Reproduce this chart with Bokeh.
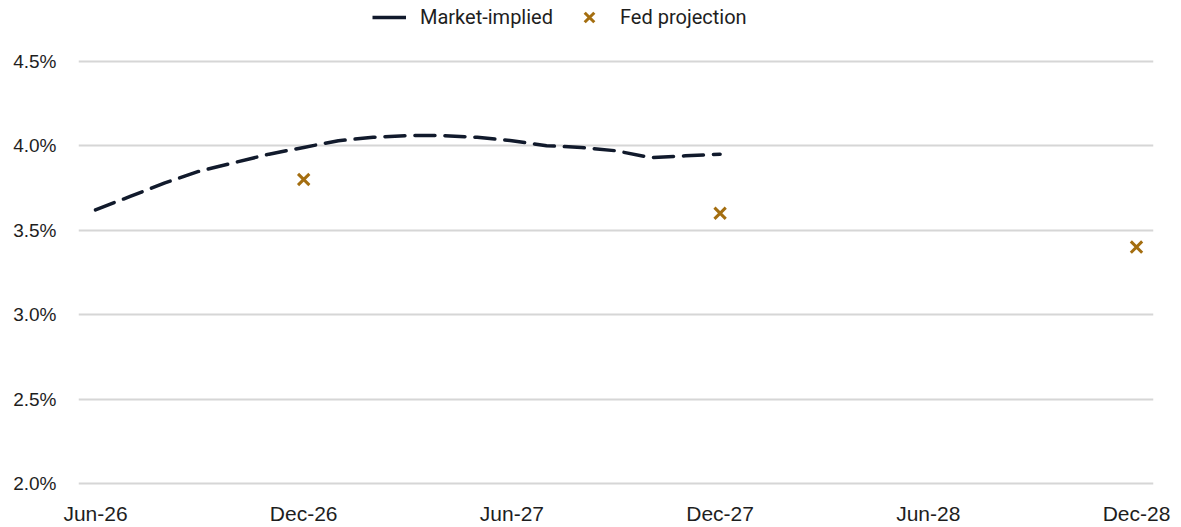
from bokeh.plotting import figure
from bokeh.models import Range1d, FixedTicker, Legend, LegendItem, ColumnDataSource
from bokeh.embed import file_html
from bokeh.resources import INLINE

# months since Jun-26
months = list(range(19))
market_implied = [3.62, 3.70, 3.78, 3.85, 3.90, 3.95, 3.99, 4.03, 4.05, 4.06,
                  4.06, 4.05, 4.03, 4.00, 3.99, 3.97, 3.93, 3.94, 3.95]
fed_months = [6, 18, 30]
fed_projection = [3.8, 3.6, 3.4]
x_tick_months = [0, 6, 12, 18, 24, 30]
x_tick_labels = ["Jun-26", "Dec-26", "Jun-27", "Dec-27", "Jun-28", "Dec-28"]
y_ticks = [2.0, 2.5, 3.0, 3.5, 4.0, 4.5]
y_tick_labels = ["2.0%", "2.5%", "3.0%", "3.5%", "4.0%", "4.5%"]

LINE_COLOR = "#111a2c"
MARK_COLOR = "#a46e10"
TEXT_COLOR = "#1e1e1e"

p = figure(width=1181, height=527, output_backend="svg", toolbar_location=None,
           x_range=Range1d(-0.49, 30.49), y_range=Range1d(1.988, 4.860),
           min_border_left=78, min_border_right=28, min_border_top=0, min_border_bottom=41)
p.outline_line_color = None
p.background_fill_color = "white"
p.border_fill_color = "white"

line_src = ColumnDataSource(dict(x=months, y=market_implied))
r_line = p.line("x", "y", source=line_src, line_color=LINE_COLOR, line_width=3.5,
                line_dash="20 10", line_cap="round")
# solid proxy for the legend swatch (no visible data)
r_leg_line = p.line(x=[float("nan")], y=[float("nan")], line_color=LINE_COLOR, line_width=3.5)

fed_src = ColumnDataSource(dict(x=fed_months, y=fed_projection))
r_fed = p.scatter("x", "y", source=fed_src, marker="x", size=16,
                  line_color=MARK_COLOR, line_width=3)

# axes
p.xaxis.ticker = FixedTicker(ticks=x_tick_months)
p.xaxis.major_label_overrides = {m: l for m, l in zip(x_tick_months, x_tick_labels)}
p.yaxis.ticker = FixedTicker(ticks=y_ticks)
p.yaxis.major_label_overrides = {v: l for v, l in zip(y_ticks, y_tick_labels)}
for ax in (p.xaxis, p.yaxis):
    ax.axis_line_color = None
    ax.major_tick_line_color = None
    ax.minor_tick_line_color = None
    ax.major_tick_out = 0
    ax.major_tick_in = 0
    ax.major_label_text_color = TEXT_COLOR
    ax.major_label_text_font = "Liberation Sans"
p.yaxis.major_label_text_font_size = "19px"
p.yaxis.major_label_standoff = 22
p.xaxis.major_label_text_font_size = "21px"
p.xaxis.major_label_standoff = 16

p.xgrid.grid_line_color = None
p.ygrid.grid_line_color = "#d6d6d6"
p.ygrid.grid_line_width = 2

legend = Legend(items=[LegendItem(label="Market-implied", renderers=[r_leg_line]),
                       LegendItem(label="Fed projection", renderers=[r_fed])],
                orientation="horizontal", location=(294, 451),
                background_fill_alpha=0, border_line_color=None,
                padding=0, margin=0, spacing=19, label_standoff=14,
                glyph_width=34, glyph_height=34,
                label_text_font="Roboto", label_text_font_size="20px",
                label_text_color=TEXT_COLOR)
p.add_layout(legend, "center")

open("out.html", "w").write(file_html(p, INLINE))
